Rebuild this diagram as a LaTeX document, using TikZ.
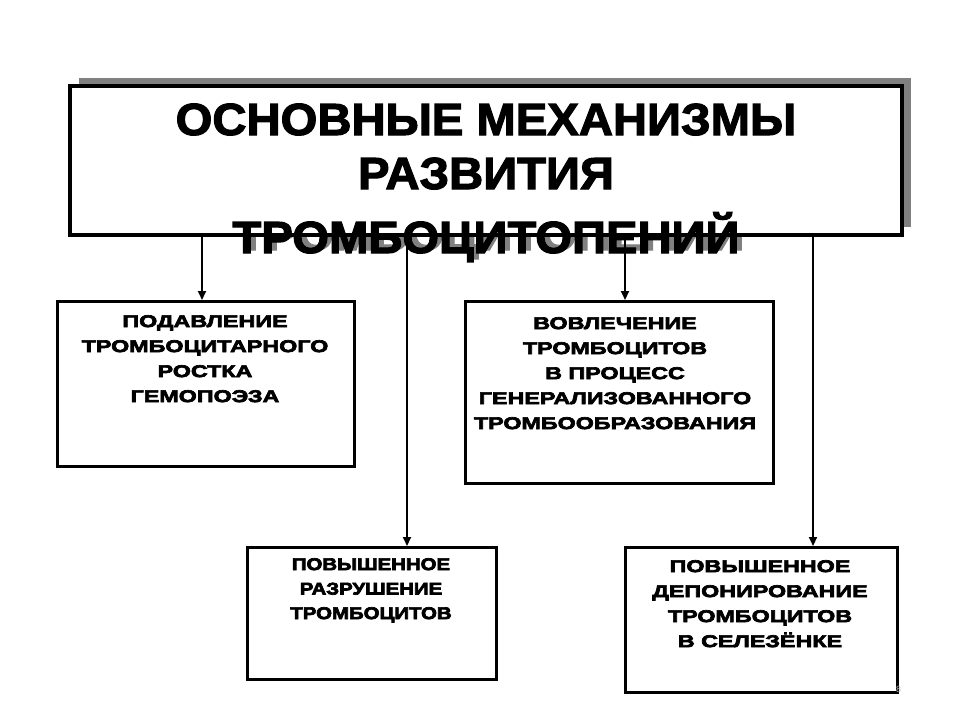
\documentclass[tikz,border=0pt]{standalone}
\usepackage{fontspec}
\setmainfont{Liberation Sans}
\newfontfamily\titlefont{Liberation Sans}[BoldFeatures={FakeBold=2.5,FakeStretch=1.05}]
\newfontfamily\boxfont{Liberation Sans}[BoldFeatures={FakeBold=4,FakeStretch=1.37}]
\newfontfamily\boxfontn{Liberation Sans}[BoldFeatures={FakeBold=4,FakeStretch=1.2}]
\usetikzlibrary{arrows.meta}
\definecolor{shadowgray}{RGB}{128,128,128}
\tikzset{
  boxframe/.style={draw, line width=3pt, fill=white, inner sep=0pt, anchor=north west},
  boxtext/.style={align=center, inner sep=0pt, anchor=north, font=\boxfont\bfseries\fontsize{17}{25}\selectfont},
  titleline/.style={inner sep=0pt, anchor=base, font=\titlefont\bfseries\fontsize{45}{50}\selectfont},
  conn/.style={line width=2pt, -{Triangle[length=9pt,width=8pt]}}
}
\begin{document}
\begin{tikzpicture}[x=1pt,y=-1pt]
\useasboundingbox (0,0) rectangle (960,720);
\fill[white] (0,0) rectangle (960,720);
% title shadow, text shadow, box
\fill[shadowgray] (79,78) rectangle (911,227);
\node[titleline, text=shadowgray] (t3s) at (491,250) {ТРОМБОЦИТОПЕНИЙ};
\node[fill=white, inner sep=0pt, anchor=north west, minimum width=832pt, minimum height=149pt] (title) at (70,86) {};
\node[titleline] (t1) at (486,135) {ОСНОВНЫЕ МЕХАНИЗМЫ};
\node[titleline] (t2) at (486,189) {РАЗВИТИЯ};
\node[titleline] (t3) at (486,253) {ТРОМБОЦИТОПЕНИЙ};
\draw[line width=4pt] (title.north west) rectangle (title.south east);
% boxes
\node[boxframe, minimum width=297pt, minimum height=165pt] (b1) at (56,300) {};
\node[boxframe, minimum width=308pt, minimum height=182pt] (b2) at (464,300) {};
\node[boxframe, minimum width=249pt, minimum height=132pt] (b3) at (246,546) {};
\node[boxframe, minimum width=272pt, minimum height=145pt] (b4) at (624,546) {};
\node[boxtext] (l1) at (205,315) {ПОДАВЛЕНИЕ\\ТРОМБОЦИТАРНОГО\\РОСТКА\\ГЕМОПОЭЗА};
\node[boxtext] (l2) at (615,317) {ВОВЛЕЧЕНИЕ\\ТРОМБОЦИТОВ\\В ПРОЦЕСС\\ГЕНЕРАЛИЗОВАННОГО\\ТРОМБООБРАЗОВАНИЯ};
\node[boxtext, font=\boxfontn\bfseries\fontsize{17}{24.5}\selectfont] (l3) at (371,558) {ПОВЫШЕННОЕ\\РАЗРУШЕНИЕ\\ТРОМБОЦИТОВ};
\node[boxtext] (l4) at (760,560) {ПОВЫШЕННОЕ\\ДЕПОНИРОВАНИЕ\\ТРОМБОЦИТОВ\\В СЕЛЕЗЁНКЕ};
% connectors
\coordinate (a1) at (202,235);
\coordinate (a2) at (407,235);
\coordinate (a3) at (625,235);
\coordinate (a4) at (813,235);
\draw[conn] (a1) -- (a1 |- b1.north);
\draw[conn] (a2) -- (a2 |- b3.north);
\draw[conn] (a3) -- (a3 |- b2.north);
\draw[conn] (a4) -- (a4 |- b4.north);
\node[text=black!25, font=\fontsize{9}{10}\selectfont, inner sep=0pt, anchor=base west] (pg) at (896,692) {8};
\end{tikzpicture}
\end{document}
